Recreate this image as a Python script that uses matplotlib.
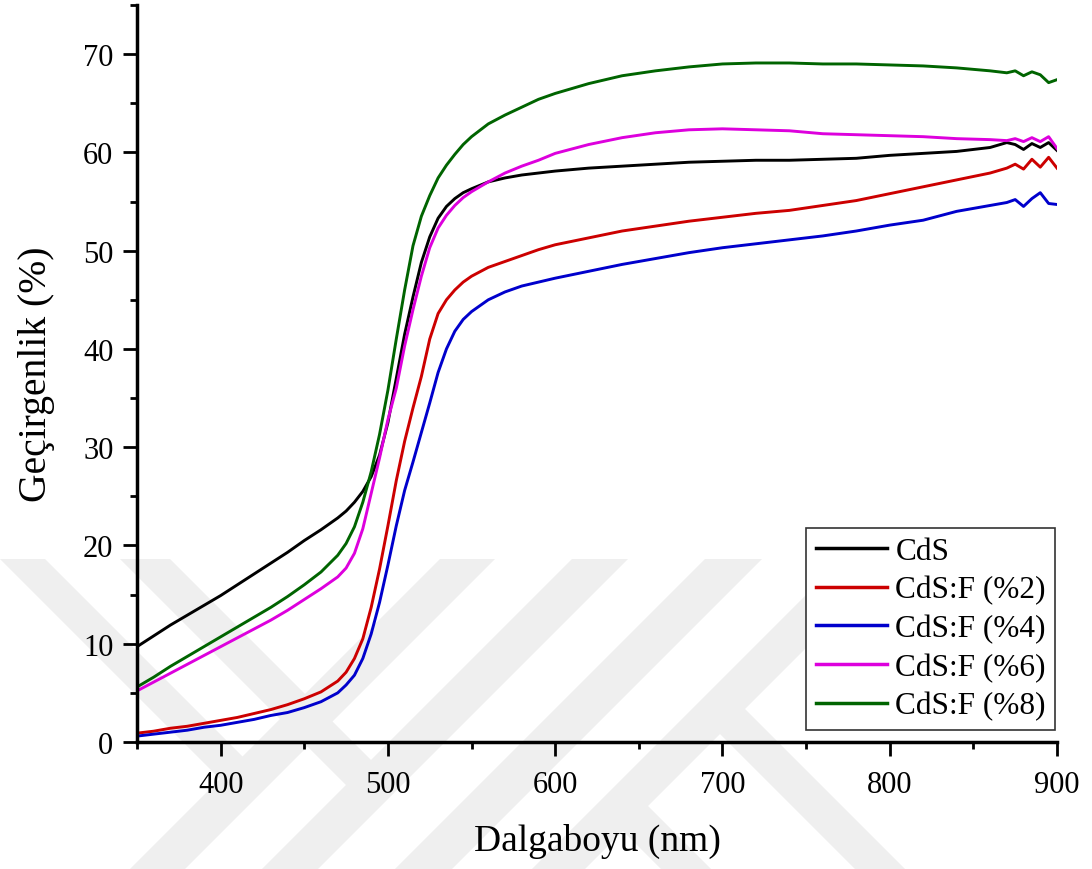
import matplotlib
matplotlib.use("Agg")
import matplotlib.pyplot as plt
from matplotlib.patches import Polygon
from matplotlib.ticker import MultipleLocator

plt.rcParams['font.family'] = ['Liberation Serif', 'DejaVu Serif']

# Wavelength grid (nm)
wavelength = [350, 360, 370, 380, 390, 400, 410, 420, 430, 440, 450, 460, 470, 475,
              480, 485, 490, 495, 500, 505, 510, 515, 520, 525, 530, 535, 540, 545,
              550, 560, 570, 580, 590, 600, 620, 640, 660, 680, 700, 720, 740, 760,
              780, 800, 820, 840, 860, 870, 875, 880, 885, 890, 895, 900]

# Transmittance (%) of each film
t_cds = [9.7, 10.8, 11.9, 12.9, 13.9, 14.9, 16.0, 17.1, 18.2, 19.3, 20.5, 21.6, 22.8, 23.5,
         24.4, 25.5, 27.0, 29.2, 32.5, 37.0, 41.5, 45.3, 48.8, 51.4, 53.3, 54.5, 55.3, 55.9,
         56.3, 57.0, 57.4, 57.7, 57.9, 58.1, 58.4, 58.6, 58.8, 59.0, 59.1, 59.2, 59.2, 59.3,
         59.4, 59.7, 59.9, 60.1, 60.5, 61.0, 60.8, 60.3, 60.9, 60.5, 61.0, 60.2]

t_f2 = [0.9, 1.1, 1.4, 1.6, 1.9, 2.2, 2.5, 2.9, 3.3, 3.8, 4.4, 5.1, 6.2, 7.1,
        8.5, 10.5, 13.7, 17.6, 22.0, 26.6, 30.6, 34.0, 37.2, 41.0, 43.6, 45.0, 46.0, 46.8,
        47.4, 48.3, 48.9, 49.5, 50.1, 50.6, 51.3, 52.0, 52.5, 53.0, 53.4, 53.8, 54.1, 54.6,
        55.1, 55.8, 56.5, 57.2, 57.9, 58.4, 58.8, 58.3, 59.3, 58.5, 59.5, 58.4]

t_f4 = [0.6, 0.8, 1.0, 1.2, 1.5, 1.7, 2.0, 2.3, 2.7, 3.0, 3.5, 4.1, 5.0, 5.8,
        6.8, 8.5, 11.0, 14.2, 18.0, 22.0, 25.6, 28.5, 31.5, 34.5, 37.6, 40.0, 41.8, 43.0,
        43.8, 45.0, 45.8, 46.4, 46.8, 47.2, 47.9, 48.6, 49.2, 49.8, 50.3, 50.7, 51.1, 51.5,
        52.0, 52.6, 53.1, 54.0, 54.6, 54.9, 55.2, 54.5, 55.3, 55.9, 54.8, 54.7]

t_f6 = [5.2, 6.1, 7.0, 7.9, 8.8, 9.7, 10.6, 11.5, 12.4, 13.4, 14.5, 15.6, 16.8, 17.7,
        19.2, 21.7, 25.3, 28.9, 32.8, 36.0, 40.3, 44.0, 47.4, 50.3, 52.3, 53.6, 54.6, 55.4,
        56.0, 57.0, 57.9, 58.6, 59.2, 59.9, 60.8, 61.5, 62.0, 62.3, 62.4, 62.3, 62.2, 61.9,
        61.8, 61.7, 61.6, 61.4, 61.3, 61.2, 61.4, 61.1, 61.5, 61.1, 61.6, 60.4]

t_f8 = [5.6, 6.6, 7.7, 8.7, 9.7, 10.7, 11.7, 12.7, 13.7, 14.8, 16.0, 17.3, 19.0, 20.2,
        21.9, 24.4, 27.5, 31.3, 35.8, 41.0, 46.0, 50.5, 53.5, 55.6, 57.4, 58.7, 59.8, 60.8,
        61.6, 62.9, 63.8, 64.6, 65.4, 66.0, 67.0, 67.8, 68.3, 68.7, 69.0, 69.1, 69.1, 69.0,
        69.0, 68.9, 68.8, 68.6, 68.3, 68.1, 68.3, 67.8, 68.2, 67.9, 67.1, 67.4]

labels = ['CdS', 'CdS:F (%2)', 'CdS:F (%4)', 'CdS:F (%6)', 'CdS:F (%8)']
colors = ['#000000', '#cc0000', '#0000cc', '#dd00dd', '#006400']
series = [t_cds, t_f2, t_f4, t_f6, t_f8]

W, H, DPI = 1092, 870, 100
fig = plt.figure(figsize=(W / DPI, H / DPI), dpi=DPI)

# Faint chevron watermark in the lower part of the page (pixel geometry)
def px_poly(pts):
    return Polygon([(x / W, 1 - y / H) for x, y in pts], closed=True,
                   transform=fig.transFigure, facecolor='#efefef',
                   edgecolor='none', zorder=-5)

bands = []
# rising bands "/" running from y=560 to the bottom edge
for x0, x1 in [(440, 495), (572, 628), (705, 762), (842, 895)]:
    d = H - 560
    bands.append([(x0, 560), (x1, 560), (x1 - d, H), (x0 - d, H)])
# falling bands "\" ending inside a rising band
for x0, x1, y0, y1 in [(0, 45, 560, 782), (120, 170, 560, 787),
                       (695, 745, 710, H), (598, 648, 807, H)]:
    d = y1 - y0
    bands.append([(x0, y0), (x1, y0), (x1 + d, y1), (x0 + d, y1)])
for b in bands:
    fig.patches.append(px_poly(b))

ax = fig.add_axes([137 / W, 1 - 743 / H, 920 / W, 737 / H])
ax.set_zorder(1)
ax.patch.set_alpha(0)

for y, c, lab in zip(series, colors, labels):
    ax.plot(wavelength, y, color=c, lw=2.1, label=lab)

ax.set_xlim(350, 900)
ax.set_ylim(0, 75)
ax.xaxis.set_major_locator(MultipleLocator(100))
ax.xaxis.set_minor_locator(MultipleLocator(50))
ax.yaxis.set_major_locator(MultipleLocator(10))
ax.yaxis.set_minor_locator(MultipleLocator(5))

for s in ['top', 'right']:
    ax.spines[s].set_visible(False)
for s in ['left', 'bottom']:
    ax.spines[s].set_linewidth(2.5)

ax.tick_params(which='major', direction='out', length=10, width=2, labelsize=22)
ax.tick_params(which='minor', direction='out', length=5, width=2)
ax.tick_params(axis='x', which='major', pad=10)
ax.tick_params(axis='y', which='major', pad=7)

ax.set_xlabel('Dalgaboyu (nm)', fontsize=27, labelpad=17)
ax.set_ylabel('Geçirgenlik (%)', fontsize=28.5, labelpad=20)

leg = ax.legend(loc='lower right', bbox_to_anchor=(0.998, 12 / 737),
                fontsize=22.5, frameon=True, fancybox=False, framealpha=1,
                edgecolor='#333333', handlelength=2.3, handletextpad=0.25,
                labelspacing=0.3, borderpad=0.3, borderaxespad=0)
leg.get_frame().set_linewidth(1.2)
for h in leg.get_lines():
    h.set_linewidth(2.5)

fig.savefig('out.png', dpi=DPI)
